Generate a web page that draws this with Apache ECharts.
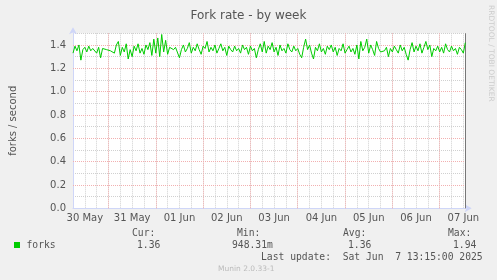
<!DOCTYPE html>
<html>
<head>
<meta charset="utf-8">
<script src="https://cdn.jsdelivr.net/npm/echarts@6/dist/echarts.min.js"></script>
<style>
html,body{margin:0;padding:0;background:#F0F0F0;}
#chart{width:497px;height:280px;}
</style>
</head>
<body>
<div id="chart"></div>
<script>
// ---- data ----
const titleText = 'Fork rate - by week';
const yAxisName = 'forks / second';
const dayLabels = ['30 May','31 May','01 Jun','02 Jun','03 Jun','04 Jun','05 Jun','06 Jun','07 Jun'];
const startHour = 6;      // hours after 30 May 00:00 of first sample
const stepHours = 1;      // sample spacing
const endHour = 205.2;    // last update 7 Jun 13:12
const forks = [
1.33,1.39,1.35,1.40,1.27,1.36,1.38,1.34,1.39,1.35,1.37,1.36,1.33,1.38,1.29,1.37,1.36,
1.36,1.36,1.35,1.35,
1.33,1.40,1.43,1.31,1.38,1.34,1.41,1.28,1.36,1.30,1.39,1.35,1.41,1.33,1.37,1.32,1.40,1.36,1.42,
1.31,1.45,1.33,1.46,1.30,1.49,1.34,1.44,1.32,1.38,1.37,1.36,1.38,1.37,1.29,1.36,
1.40,1.34,1.37,1.42,1.33,1.38,1.35,1.41,1.36,1.32,1.39,1.37,1.43,1.34,1.38,1.35,1.40,1.33,1.37,1.41,1.35,1.38,1.31,1.39,
1.36,1.34,1.39,1.35,1.37,1.33,1.40,1.36,1.38,1.32,1.39,1.35,1.37,1.29,1.36,1.41,1.34,1.43,1.33,1.39,
1.36,1.42,1.34,1.38,1.31,1.40,1.35,1.37,1.33,1.41,1.36,1.34,1.39,1.35,1.37,1.32,1.29,1.38,1.45,1.36,
1.40,1.33,1.28,1.38,1.35,1.41,1.34,1.37,1.32,1.39,1.36,1.40,1.34,1.38,1.31,1.37,1.35,1.41,1.33,1.36,
1.39,1.34,1.37,1.32,1.40,1.28,1.43,1.35,1.38,1.45,1.33,1.40,1.36,1.31,1.43,1.37,1.34,1.35,1.35,1.38,
1.30,1.37,1.34,1.39,1.36,1.33,1.40,1.35,1.38,1.32,1.27,1.36,1.42,1.34,1.39,1.35,1.41,1.33,1.38,1.43,
1.36,1.40,1.30,1.37,1.35,1.39,1.34,1.38,1.33,1.41,1.36,1.34,1.39,1.35,1.37,1.32,1.38,1.36,1.33,1.42
];
const yMajorLines = [0.2,0.4,0.6,0.8,1.0,1.2,1.4];
const xMajorLines = [24,48,72,96,120,144,168,192];
const legendHeaders = ['Cur:','Min:','Avg:','Max:'];
const legendValues = ['1.36','948.31m','1.36','1.94'];
const seriesName = 'forks';
const lastUpdate = 'Last update:  Sat Jun  7 13:15:00 2025';
const footer = 'Munin 2.0.33-1';
const sideText = 'RRDTOOL / TOBI OETIKER';

// ---- chart ----
const green = '#00CC00';
const axisColor = '#CFD6F8';
const minorGrid = '#D0D0D0';
const majorGrid = '#F2B0B0';
const fontColor = '#555555';
const mono = "'DejaVu Sans Mono', monospace";

const seriesData = forks.map((v, i) => [startHour + i * stepHours, v]);

const headerX = [132, 237, 343, 448];
const valueX = [137, 232, 348, 453];
const graphics = [];
legendHeaders.forEach((t, i) => graphics.push({type:'text', left: headerX[i], top: 228, style:{text:t, font:'9.7px ' + mono, fill: fontColor}}));
graphics.push({type:'rect', shape:{x:14, y:242, width:6, height:6}, style:{fill: green}});
graphics.push({type:'text', left: 26.5, top: 240, style:{text: seriesName, font:'9.7px ' + mono, fill: fontColor}});
legendValues.forEach((t, i) => graphics.push({type:'text', left: valueX[i], top: 240, style:{text:t, font:'9.7px ' + mono, fill: fontColor}}));
graphics.push({type:'text', left: 261, top: 252, style:{text: lastUpdate, font:'9.7px ' + mono, fill: fontColor}});
graphics.push({type:'text', left: 218, top: 265, style:{text: footer, font:'7.5px "DejaVu Sans"', fill: '#BBBBBB'}});
graphics.push({type:'text', x: 491, y: 5, rotation: -Math.PI/2, style:{text: sideText, font:'7.5px "DejaVu Sans"', fill:'#CCCCCC', align:'left', verticalAlign:'middle'}});

const markData = xMajorLines.map(x => ({xAxis: x})).concat(yMajorLines.map(y => ({yAxis: y})));

const chart = echarts.init(document.getElementById('chart'), null, {renderer:'canvas'});
chart.setOption({
  animation: false,
  backgroundColor: '#F0F0F0',
  textStyle: {fontFamily: "'DejaVu Sans'"},
  title: {text: titleText, left: 'center', top: 5, textStyle:{fontSize: 12, fontWeight:'normal', color: fontColor, fontFamily:"'DejaVu Sans'"}},
  grid: {left: 67, right: 31.3, top: 33.3, bottom: 71.7, show: true, backgroundColor:'#FFFFFF', borderWidth: 0},
  xAxis: {
    type: 'value', min: startHour, max: endHour, interval: 6,
    axisLine: {show: true, lineStyle:{color: axisColor, width: 1}, symbol:['none','arrow'], symbolSize:[6,7], symbolOffset:[0,6]},
    axisTick: {show: false},
    axisLabel: {color: fontColor, fontSize: 10, margin: 5, showMaxLabel: false,
      formatter: v => { const d = (v - 12) / 24; return (Number.isInteger(d) && d >= 0 && d < dayLabels.length) ? dayLabels[d] : ''; }},
    splitLine: {show: true, lineStyle:{color: minorGrid, type:[1,1], width:1}}
  },
  yAxis: {
    type: 'value', min: 0, max: 1.5, interval: 0.1,
    name: yAxisName, nameLocation: 'middle', nameGap: 55, nameTextStyle:{color: fontColor, fontSize: 10},
    axisLine: {show: true, lineStyle:{color: axisColor, width: 1}, symbol:['none','arrow'], symbolSize:[6,7], symbolOffset:[0,6]},
    axisTick: {show: false},
    axisLabel: {color: fontColor, fontSize: 10, margin: 7,
      formatter: v => (Math.round(v * 10) % 2 === 0) ? v.toFixed(1) : ''},
    splitLine: {show: true, lineStyle:{color: minorGrid, type:[1,1], width:1}}
  },
  series: [
    {type:'line', data: [], z: 1, silent: true,
     markLine: {silent: true, symbol:'none', label:{show:false}, z: 1, animation:false,
       lineStyle:{color: majorGrid, type:[1,1], width:1}, data: markData}},
    {type:'line', data: [], z: 1, silent: true,
     markLine: {silent: true, symbol:'none', label:{show:false}, z: 1, animation:false,
       lineStyle:{color: '#777777', type:'solid', width:1}, data: [{xAxis: endHour}]}},
    {type:'line', name: seriesName, data: seriesData, z: 3, showSymbol: false, symbol:'none',
     lineStyle:{color: green, width: 1}}
  ],
  graphic: graphics
});
</script>
</body>
</html>
